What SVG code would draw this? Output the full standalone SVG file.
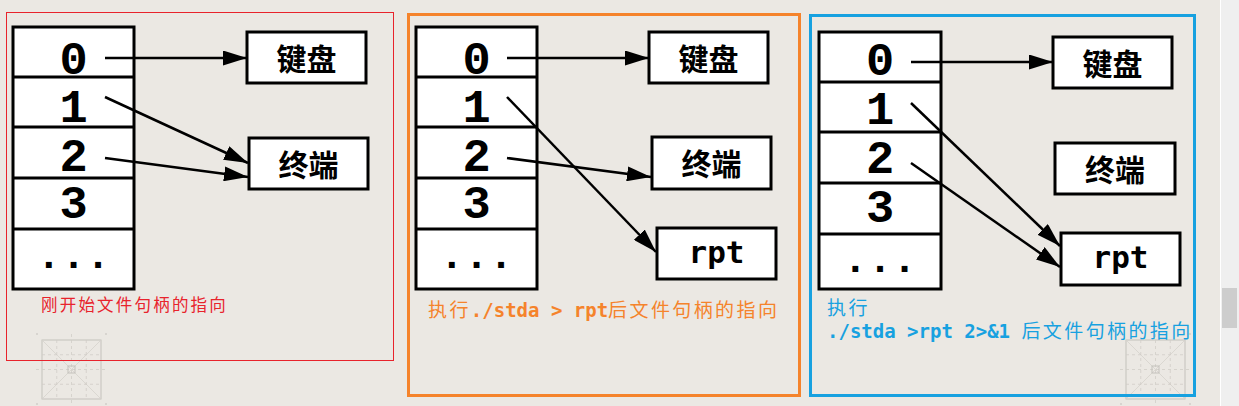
<svg xmlns="http://www.w3.org/2000/svg" width="1239" height="406" viewBox="0 0 1239 406">
<defs>
<style>
.tbl{fill:#fff;stroke:#000;stroke-width:3}
.div{stroke:#000;stroke-width:3}
.box{fill:#fff;stroke:#000;stroke-width:3}
.num{font-family:"Liberation Mono","DejaVu Sans Mono",monospace;font-weight:bold;font-size:47px;text-anchor:middle;fill:#000}
.dots{font-family:"Liberation Mono","DejaVu Sans Mono",monospace;font-weight:bold;font-size:41px;text-anchor:middle;fill:#000}
.cjk{font-family:"Noto Sans CJK SC",sans-serif;font-weight:bold;font-size:30px;text-anchor:middle;dominant-baseline:central;fill:#000}
.file{font-family:"DejaVu Sans Mono","Liberation Mono",monospace;font-weight:bold;font-size:31px;text-anchor:middle;fill:#000}
.conn{stroke:#000;stroke-width:2.5;fill:none;marker-end:url(#ah)}
.cap{font-family:"Noto Sans CJK SC",sans-serif;font-size:19px}
.capz{letter-spacing:2.4px}
.mono{font-family:"DejaVu Sans Mono","Liberation Mono",monospace;font-weight:bold;font-size:19px;letter-spacing:0}
.ico{fill:none;stroke:#c4c1bc;stroke-width:1}
.icof{fill:none;stroke:#d5d2cd;stroke-width:0.8}
.icod{fill:none;stroke:#d0cdc8;stroke-width:0.8;stroke-dasharray:3 3}
</style>
<marker id="ah" markerUnits="userSpaceOnUse" markerWidth="24" markerHeight="15" refX="24" refY="7.5" orient="auto">
<path d="M0,0 L24,7.5 L0,15 z" fill="#000"/>
</marker>
<g id="icon">
<rect class="ico" x="0" y="0" width="59" height="59"/>
<path class="icof" d="M0,0 L59,59 M59,0 L0,59"/>
<path class="icod" d="M29.5,-6 V65 M-6,29.5 H65 M14.75,0 V59 M44.25,0 V59 M0,14.75 H59 M0,44.25 H59"/>
<rect class="ico" x="26" y="26" width="7" height="7"/>
<path class="ico" d="M-6,-6 h2 M63,-6 h2 M-6,64 h2 M63,64 h2"/>
</g>
</defs>
<rect x="0" y="0" width="1239" height="406" fill="#ebe8e3"/>
<rect x="1221" y="0" width="18" height="406" fill="#efefef"/>
<line x1="1220.5" y1="0" x2="1220.5" y2="406" stroke="#ffffff" stroke-width="1"/>
<rect x="1222" y="288" width="15" height="40" fill="#cdcdcd"/>

<use href="#icon" x="42" y="340"/>
<use href="#icon" x="1126" y="340"/>

<!-- Panel 1 -->
<g id="panel1">
<rect x="6.5" y="12.5" width="387" height="348" fill="none" stroke="#e8232c" stroke-width="1"/>
<g id="p1-table">
<rect class="tbl" x="13" y="27" width="121" height="262"/>
<path class="div" d="M13,77 H134 M13,127 H134 M13,178 H134 M13,229 H134"/>
<text class="num" x="73.5" y="74">0</text>
<text class="num" x="73.5" y="122">1</text>
<text class="num" x="73.5" y="171">2</text>
<text class="num" x="73.5" y="218">3</text>
<text class="dots" x="73.5" y="268">...</text>
</g>
<g id="p1-keyboard"><rect class="box" x="247" y="32" width="119" height="51"/><text class="cjk" x="306.5" y="57">键盘</text></g>
<g id="p1-terminal"><rect class="box" x="249" y="138" width="119" height="51"/><text class="cjk" x="308.5" y="163">终端</text></g>
<text id="p1-caption" class="cap" x="41" y="311" fill="#e8232c" style="font-size:16.5px;letter-spacing:2.2px">刚开始文件句柄的指向</text>
</g>

<!-- Panel 2 -->
<g id="panel2">
<rect x="408.5" y="14.5" width="391" height="381" fill="none" stroke="#f5832b" stroke-width="3"/>
<g id="p2-table">
<rect class="tbl" x="416" y="27" width="121" height="262"/>
<path class="div" d="M416,77 H537 M416,127 H537 M416,178 H537 M416,229 H537"/>
<text class="num" x="476.5" y="74">0</text>
<text class="num" x="476.5" y="122">1</text>
<text class="num" x="476.5" y="171">2</text>
<text class="num" x="476.5" y="218">3</text>
<text class="dots" x="476.5" y="268">...</text>
</g>
<g id="p2-keyboard"><rect class="box" x="649" y="32" width="119" height="51"/><text class="cjk" x="708.5" y="57">键盘</text></g>
<g id="p2-terminal"><rect class="box" x="652" y="137" width="119" height="52"/><text class="cjk" x="711.5" y="162">终端</text></g>
<g id="p2-rpt"><rect class="box" x="657" y="228" width="119" height="51"/><text class="file" x="716.5" y="263">rpt</text></g>
<text id="p2-caption" class="cap" x="428" y="317" fill="#f5832b"><tspan class="capz">执行</tspan><tspan class="mono">./stda &gt; rpt</tspan><tspan class="capz">后文件句柄的指向</tspan></text>
</g>

<!-- Panel 3 -->
<g id="panel3">
<rect x="810.5" y="15.5" width="384" height="380" fill="none" stroke="#17a1e0" stroke-width="3"/>
<g id="p3-table">
<rect class="tbl" x="819" y="32" width="122" height="257"/>
<path class="div" d="M819,82 H941 M819,132 H941 M819,183 H941 M819,234 H941"/>
<text class="num" x="880" y="75">0</text>
<text class="num" x="880" y="124">1</text>
<text class="num" x="880" y="173">2</text>
<text class="num" x="880" y="222">3</text>
<text class="dots" x="880" y="272">...</text>
</g>
<g id="p3-keyboard"><rect class="box" x="1053" y="37" width="119" height="51"/><text class="cjk" x="1112.5" y="62">键盘</text></g>
<g id="p3-terminal"><rect class="box" x="1055" y="143" width="120" height="51"/><text class="cjk" x="1115" y="168">终端</text></g>
<g id="p3-rpt"><rect class="box" x="1061" y="233" width="119" height="52"/><text class="file" x="1120.5" y="268">rpt</text></g>
<text id="p3-caption" class="cap" fill="#17a1e0"><tspan class="capz" x="827" y="315">执行</tspan><tspan class="mono" x="827" y="338">./stda &gt;rpt 2&gt;&amp;1 </tspan><tspan class="capz">后文件句柄的指向</tspan></text>
</g>

<g id="connectors">
<path class="conn" d="M105,58 L247,58"/>
<path class="conn" d="M105,97 L248,163"/>
<path class="conn" d="M105,158 L248,177"/>
<path class="conn" d="M507,58 L649,58"/>
<path class="conn" d="M507,97 L656,252"/>
<path class="conn" d="M507,158 L651,177"/>
<path class="conn" d="M911,62 L1053,62"/>
<path class="conn" d="M911,103 L1060,246"/>
<path class="conn" d="M911,163 L1060,267"/>
</g>
</svg>
